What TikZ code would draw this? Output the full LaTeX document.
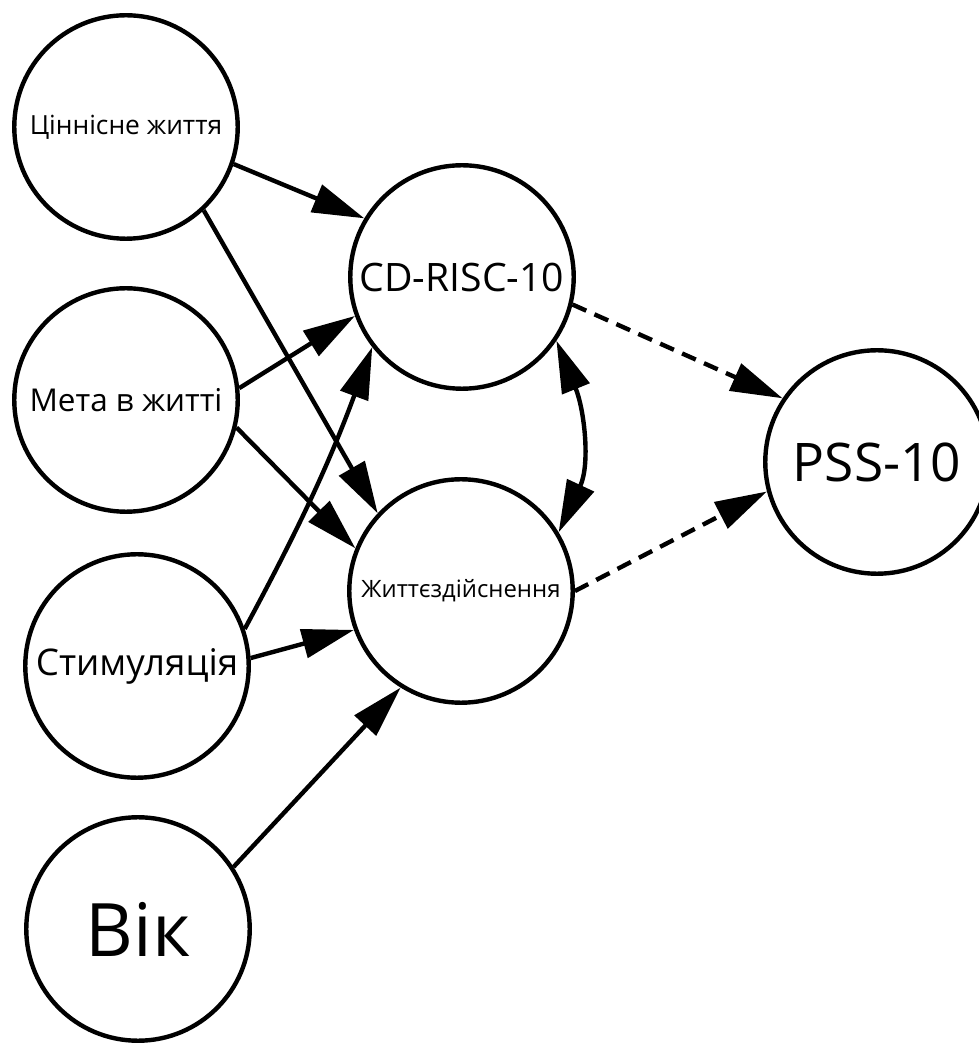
\documentclass[tikz,border=0pt]{standalone}
\usepackage{fontspec}
\setmainfont{Open Sans}
\usetikzlibrary{arrows.meta}
\begin{document}
\begin{tikzpicture}[x=0.02cm,y=0.02cm,
  >={Triangle[length=1.04cm,width=0.58cm]},
  var/.style={circle,draw,line width=0.088cm,minimum size=4.47cm,inner sep=0pt},
  link/.style={line width=0.088cm,->},
  dashlink/.style={link,dash pattern=on 0.3cm off 0.18cm}]
\useasboundingbox (0,0) rectangle (978,1045);

% predictors
\node[var,font=\fontsize{15}{18}\selectfont] (cin) at (126,918) {Ціннісне життя};
\node[var,font=\fontsize{17.9}{21}\selectfont] (meta) at (126,645) {Мета в житті};
\node[var,font=\fontsize{20.9}{25}\selectfont] (stym) at (137,379) {Стимуляція};
\node[var,font=\fontsize{42}{48}\selectfont] (vik) at (138,116) {Вік};

% mediators and outcome
\node[var,font=\fontsize{22.3}{26}\selectfont] (cd) at (462,768) {CD-RISC-10};
\node[var,font=\fontsize{13.6}{16}\selectfont] (zhyt) at (461,454) {Життєздійснення};
\node[var,font=\fontsize{30.3}{35}\selectfont] (pss) at (877,583) {PSS-10};

% direct paths
\draw[link] (cin.-19) -- (cd.149.5);
\draw[link] (cin.-47) -- (zhyt.137);
\draw[link] (meta.6) -- (cd.200);
\draw[link] (meta.-14) -- (zhyt.158);
\draw[link] (stym.19) to[bend right=4] (cd.218);
\draw[link] (stym.4) -- (zhyt.200);
\draw[link] (vik.33) -- (zhyt.238);

% covariance
\draw[link,<->] (cd.-34) to[out=-68,in=65] (zhyt.31);

% effects on stress
\draw[dashlink] (cd.-14) -- (pss.146);
\draw[dashlink] (zhyt.0) -- (pss.195);
\end{tikzpicture}
\end{document}
